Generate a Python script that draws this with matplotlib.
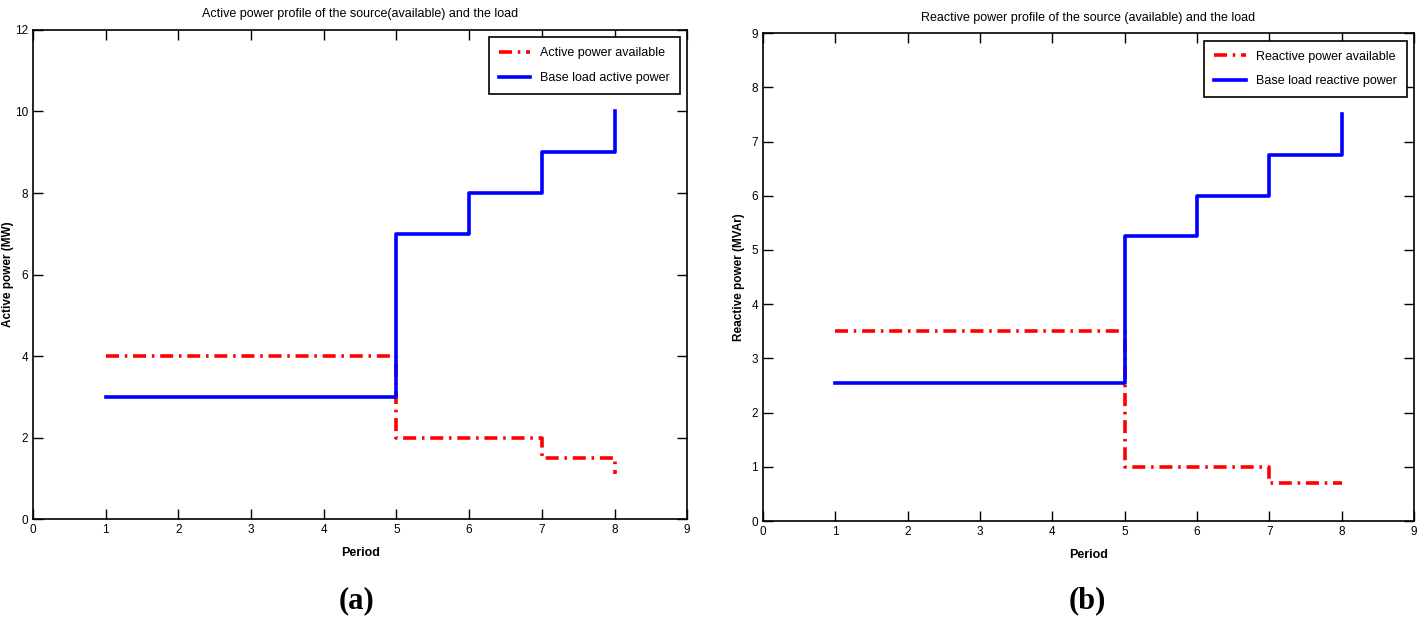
import matplotlib.pyplot as plt

plt.rcParams['font.family'] = ['Liberation Sans Narrow', 'Liberation Sans', 'DejaVu Sans']

# data (stairs, one value per period)
periods = [1, 2, 3, 4, 5, 6, 7, 8]
p_avail = [4, 4, 4, 4, 2, 2, 1.5, 1.1]
p_load = [3, 3, 3, 3, 7, 8, 9, 10]
q_avail = [3.5, 3.5, 3.5, 3.5, 1, 1, 0.7, 0.7]
q_load = [2.55, 2.55, 2.55, 2.55, 5.25, 6, 6.75, 7.5]

fig = plt.figure(figsize=(14.19, 6.24), dpi=100)
ax1 = fig.add_axes([0.0233, 0.168, 0.461, 0.784])
ax2 = fig.add_axes([0.5377, 0.165, 0.4588, 0.782])

dashdot = (0, (3.6, 1.6, 0.7, 1.6))

def panel(ax, avail, load, ymax, lab_avail, lab_load, ylabel, title, tag, tagx, ylx):
    ax.plot(periods, avail, drawstyle='steps-post', color='red', lw=2.6,
            linestyle=dashdot, label=lab_avail)
    ax.plot(periods, load, drawstyle='steps-post', color='blue', lw=2.6,
            label=lab_load)
    ax.set_xlim(0, 9)
    ax.set_ylim(0, ymax)
    ax.set_xticks(range(0, 10))
    ax.tick_params(direction='in', length=7, top=True, right=True,
                   labelsize=8.5, width=1)
    for s in ax.spines.values():
        s.set_linewidth(1.2)
    ax.set_title(title, fontsize=9, pad=9)
    ax.set_xlabel('Period', fontsize=9, fontweight='bold', labelpad=8)
    ax.set_ylabel(ylabel, fontsize=8.5, fontweight='bold')
    ax.yaxis.set_label_coords(ylx, 0.5)
    leg = ax.legend(loc='upper right', fontsize=9, fancybox=False,
                    framealpha=1, edgecolor='black', handlelength=2.5,
                    borderaxespad=0.6, borderpad=0.8, labelspacing=1.0)
    leg.get_frame().set_linewidth(1.2)
    fig.text(tagx, 0.038, tag, ha='center', va='center',
             fontsize=22, fontweight='bold', family='Liberation Serif')

panel(ax1, p_avail, p_load, 12, 'Active power available',
      'Base load active power', 'Active power (MW)',
      'Active power profile of the source(available) and the load', '(a)',
      357 / 1419, -0.029)
ax1.set_yticks(range(0, 13, 2))
panel(ax2, q_avail, q_load, 9, 'Reactive power available',
      'Base load reactive power', 'Reactive power (MVAr)',
      'Reactive power profile of the source (available) and the load', '(b)',
      1087 / 1419, -0.027)
ax2.set_yticks(range(0, 10))

fig.savefig('out.png', dpi=100)
